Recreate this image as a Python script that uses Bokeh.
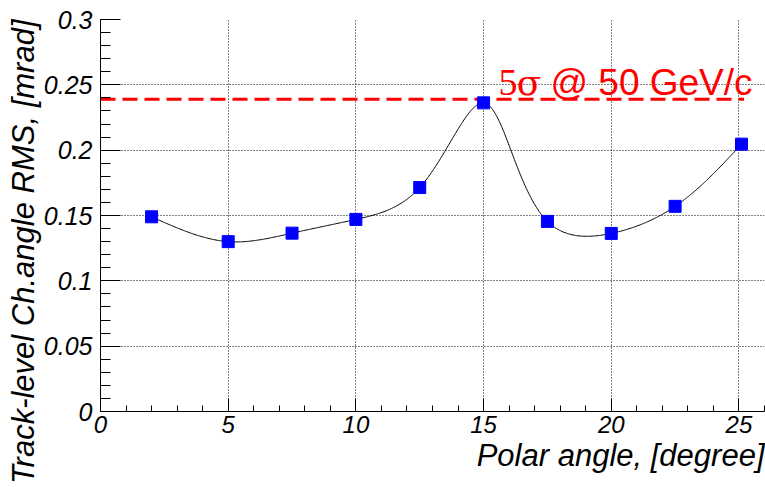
import numpy as np
from bokeh.plotting import figure
from bokeh.models import Range1d, FixedTicker, Title, Label
from bokeh.embed import file_html
from bokeh.resources import INLINE

# ---- data ----
polar_angle = [2.0, 5.0, 7.5, 10.0, 12.5, 15.0, 17.5, 20.0, 22.5, 25.1]
rms_mrad = [0.149, 0.130, 0.1365, 0.147, 0.1714, 0.2362, 0.1455, 0.1363, 0.157, 0.2046]
limit_x = [0.0, 25.2]
limit_value = 0.239
limit_text_num = "5"
limit_text_sym = "σ"
limit_text_rest = "@ 50 GeV/c"
x_ticks = [0, 5, 10, 15, 20, 25]
x_tick_labels = ["0", "5", "10", "15", "20", "25"]
y_ticks = [0, 0.05, 0.1, 0.15, 0.2, 0.25, 0.3]
y_tick_labels = ["0", "0.05", "0.1", "0.15", "0.2", "0.25", "0.3"]
x_title = "Polar angle, [degree]"
y_title = "Track-level Ch.angle RMS, [mrad]"

X_MAX = 26.0
Y_MAX = 0.3
W, H = 765, 487
LEFT, RIGHT, TOP, BOTTOM = 100, 1, 19, 76


def _nat_spline_coeffs(t, v):
    n = len(t)
    h = np.diff(t)
    A = np.zeros((n, n))
    r = np.zeros(n)
    A[0, 0] = 1.0
    A[-1, -1] = 1.0
    for i in range(1, n - 1):
        A[i, i - 1] = h[i - 1]
        A[i, i] = 2 * (h[i - 1] + h[i])
        A[i, i + 1] = h[i]
        r[i] = 6 * ((v[i + 1] - v[i]) / h[i] - (v[i] - v[i - 1]) / h[i - 1])
    return np.linalg.solve(A, r)


def _eval(t, v, M, tt):
    n = len(t)
    idx = np.clip(np.searchsorted(t, tt) - 1, 0, n - 2)
    t0, t1 = t[idx], t[idx + 1]
    hh = t1 - t0
    return (M[idx] * (t1 - tt) ** 3 / (6 * hh) + M[idx + 1] * (tt - t0) ** 3 / (6 * hh)
            + (v[idx] / hh - M[idx] * hh / 6) * (t1 - tt)
            + (v[idx + 1] / hh - M[idx + 1] * hh / 6) * (tt - t0))


def smooth_curve(xs, ys, npts=600, alpha=0.75):
    # parametric cubic spline through the points (screen-pixel chord parameterisation)
    sx = (W - LEFT - RIGHT) / X_MAX
    sy = (H - TOP - BOTTOM) / Y_MAX
    px = np.asarray(xs, float) * sx
    py = np.asarray(ys, float) * sy
    d = np.hypot(np.diff(px), np.diff(py)) ** alpha
    t = np.concatenate([[0.0], np.cumsum(d)])
    Mx = _nat_spline_coeffs(t, px)
    My = _nat_spline_coeffs(t, py)
    tt = np.linspace(t[0], t[-1], npts)
    return _eval(t, px, Mx, tt) / sx, _eval(t, py, My, tt) / sy


p = figure(width=W, height=H, output_backend="svg", toolbar_location=None,
           x_range=Range1d(0, X_MAX), y_range=Range1d(0, Y_MAX),
           min_border_left=LEFT, min_border_right=RIGHT, min_border_top=TOP,
           min_border_bottom=BOTTOM)
p.outline_line_color = None
p.background_fill_color = "white"
p.border_fill_color = "white"

FONT = "Liberation Sans"
p.xaxis.ticker = FixedTicker(ticks=x_ticks, minor_ticks=list(range(0, 27)))
p.xaxis.major_label_overrides = {t: l for t, l in zip(x_ticks, x_tick_labels)}
p.yaxis.ticker = FixedTicker(ticks=y_ticks, minor_ticks=[round(i * 0.01, 2) for i in range(31)])
p.yaxis.major_label_overrides = {t: l for t, l in zip(y_ticks, y_tick_labels)}
for ax in (p.xaxis, p.yaxis):
    ax.axis_line_color = "black"
    ax.axis_line_width = 1
    ax.major_tick_line_color = "black"
    ax.minor_tick_line_color = "black"
    ax.major_tick_out = 0
    ax.minor_tick_out = 0
    ax.major_label_text_font = FONT
    ax.major_label_text_font_style = "italic"
    ax.major_label_text_color = "black"
p.xaxis.major_tick_in = 13
p.xaxis.minor_tick_in = 6
p.yaxis.major_tick_in = 20
p.yaxis.minor_tick_in = 10
p.xaxis.major_label_text_font_size = "24px"
p.yaxis.major_label_text_font_size = "25px"
p.xaxis.major_label_standoff = 4
p.yaxis.major_label_standoff = 8

for g in (p.xgrid, p.ygrid):
    g.grid_line_color = "black"
    g.grid_line_dash = "1 2"
    g.grid_line_width = 1

p.add_layout(Title(text=y_title, align="right", text_font=FONT, text_font_style="italic",
                   text_font_size="31px", text_color="black", standoff=0, offset=0), "left")
p.add_layout(Title(text=x_title, align="right", text_font=FONT, text_font_style="italic",
                   text_font_size="31px", text_color="black", standoff=0, offset=0), "below")

# threshold line
p.line(limit_x, [limit_value, limit_value], line_color="#ff0000", line_width=3, line_dash="15 7")

# smooth curve and points
cx, cy = smooth_curve(polar_angle, rms_mrad)
p.line(cx, cy, line_color="black", line_width=1)
p.scatter(polar_angle, rms_mrad, marker="square", size=12, fill_color="#0000ff", line_color="#0000ff")

p.add_layout(Label(x=15.58, y=0.2518, text=limit_text_num, text_font="Liberation Serif",
                   text_font_size="38px", text_color="#ff0000", text_baseline="alphabetic"))
p.add_layout(Label(x=16.3, y=0.2518, text=limit_text_sym, text_font="DejaVu Serif",
                   text_font_size="36px", text_color="#ff0000", text_baseline="alphabetic"))
p.add_layout(Label(x=17.62, y=0.2518, text=limit_text_rest, text_font=FONT,
                   text_font_size="37px", text_color="#ff0000", text_baseline="alphabetic"))

open("out.html", "w").write(file_html(p, INLINE))
